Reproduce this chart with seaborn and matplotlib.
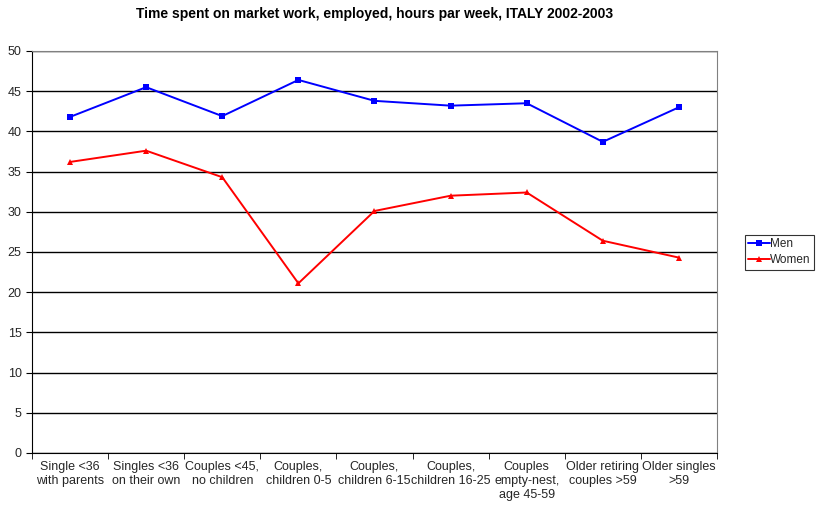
import pandas as pd
import matplotlib
matplotlib.use("Agg")
import matplotlib.pyplot as plt
import seaborn as sns

# datos
categorias = ["Single <36\nwith parents", "Singles <36\non their own", "Couples <45,\nno children",
              "Couples,\nchildren 0-5", "Couples,\nchildren 6-15", "Couples,\nchildren 16-25",
              "Couples\nempty-nest,\nage 45-59", "Older retiring\ncouples >59", "Older singles\n>59"]
hombres = [41.8, 45.5, 41.9, 46.4, 43.8, 43.2, 43.5, 38.7, 43.0]
mujeres = [36.2, 37.6, 34.3, 21.1, 30.1, 32.0, 32.4, 26.4, 24.3]
series = ["Men", "Women"]

df = pd.DataFrame({
    "pos": list(range(len(categorias))) * 2,
    "horas": hombres + mujeres,
    "grupo": [series[0]] * len(hombres) + [series[1]] * len(mujeres),
})

sns.set_style("white")
plt.rcParams["font.family"] = ["Liberation Sans", "DejaVu Sans"]

fig = plt.figure(figsize=(8.18, 5.13), dpi=100)
ax = fig.add_axes([0.0391, 0.117, 0.8374, 0.7836])

sns.lineplot(data=df, x="pos", y="horas", hue="grupo", style="grupo",
             markers={"Men": "s", "Women": "^"}, dashes=False,
             palette={"Men": "#0000ff", "Women": "#ff0000"},
             markersize=5, markeredgewidth=0, linewidth=1.4, ax=ax)

ax.set_xlim(-0.5, len(categorias) - 0.5)
ax.set_ylim(0, 50)
ax.set_yticks(range(0, 51, 5))
ax.yaxis.grid(True, color="black", linewidth=1)
ax.set_axisbelow(True)

ax.set_xticks(range(len(categorias)))
ax.set_xticklabels(categorias, fontsize=9, va="top")
ax.set_xticks([i - 0.5 for i in range(len(categorias) + 1)], minor=True)
ax.tick_params(axis="x", which="major", length=0, pad=6)
ax.tick_params(axis="x", which="minor", length=4, direction="out", color="black", bottom=True)
ax.tick_params(axis="y", length=4, direction="out", color="black", left=True, labelsize=9)

ax.set_xlabel("")
ax.set_ylabel("")
for lado in ["left", "bottom"]:
    ax.spines[lado].set_color("black")
for lado in ["top", "right"]:
    ax.spines[lado].set_color("#808080")

ax.set_title("Time spent on market work, employed, hours par week, ITALY 2002-2003",
             fontsize=10, fontweight="bold", pad=24, color="black")

leg = ax.legend(loc="upper left", bbox_to_anchor=(0.9105, 0.542), bbox_transform=fig.transFigure,
                frameon=True, fancybox=False, fontsize=8.5, handlelength=1.8, handletextpad=0.05,
                borderpad=0.3, labelspacing=0.3, borderaxespad=0)
leg.get_frame().set_edgecolor("black")
leg.get_frame().set_linewidth(0.8)

fig.savefig("out.png", dpi=100)
